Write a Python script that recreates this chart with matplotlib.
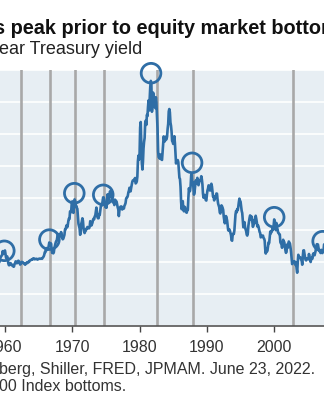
import numpy as np
import matplotlib
matplotlib.use('Agg')
import matplotlib.pyplot as plt

plt.rcParams['font.family'] = ['Liberation Sans', 'DejaVu Sans']

# monthly 10-year Treasury yield (%), Jan 1959 - Dec 2007
start_year = 1959
yields = [
    4.02, 3.96, 3.99, 4.12, 4.31, 4.34, 4.40, 4.43, 4.68, 4.53, 4.53, 4.69,
    4.72, 4.49, 4.25, 4.28, 4.35, 4.15, 3.90, 3.80, 3.80, 3.89, 3.93, 3.84,
    3.84, 3.78, 3.74, 3.78, 3.71, 3.88, 3.92, 4.04, 3.98, 3.92, 3.94, 4.06,
    4.08, 4.04, 3.93, 3.84, 3.87, 3.91, 4.01, 3.98, 3.98, 3.93, 3.92, 3.86,
    3.83, 3.92, 3.93, 3.97, 3.93, 3.99, 4.02, 4.00, 4.08, 4.11, 4.12, 4.13,
    4.17, 4.15, 4.22, 4.23, 4.20, 4.17, 4.19, 4.19, 4.20, 4.19, 4.15, 4.18,
    4.19, 4.21, 4.21, 4.20, 4.21, 4.21, 4.20, 4.25, 4.29, 4.35, 4.45, 4.62,
    4.61, 4.83, 4.87, 4.75, 4.78, 4.81, 5.02, 5.22, 5.18, 5.01, 5.16, 4.84,
    4.58, 4.63, 4.54, 4.59, 4.85, 5.02, 5.16, 5.28, 5.30, 5.48, 5.75, 5.70,
    5.53, 5.56, 5.74, 5.64, 5.87, 5.72, 5.50, 5.42, 5.46, 5.58, 5.70, 6.03,
    6.04, 6.19, 6.30, 6.17, 6.32, 6.57, 6.72, 6.69, 7.16, 7.10, 7.14, 7.65,
    7.79, 7.24, 7.07, 7.39, 7.91, 7.84, 7.46, 7.53, 7.39, 7.33, 6.84, 6.39,
    6.24, 6.11, 5.70, 5.83, 6.39, 6.52, 6.73, 6.58, 6.14, 5.93, 5.81, 5.93,
    5.95, 6.08, 6.07, 6.19, 6.13, 6.11, 6.11, 6.21, 6.55, 6.48, 6.28, 6.36,
    6.46, 6.64, 6.71, 6.67, 6.85, 6.90, 7.13, 7.40, 7.09, 6.79, 6.73, 6.74,
    6.99, 6.96, 7.21, 7.51, 7.58, 7.54, 7.81, 8.04, 8.04, 7.90, 7.68, 7.43,
    7.50, 7.39, 7.73, 8.23, 8.06, 7.86, 8.06, 8.40, 8.43, 8.14, 8.05, 8.00,
    7.74, 7.79, 7.73, 7.56, 7.90, 7.86, 7.83, 7.77, 7.59, 7.41, 7.29, 6.87,
    7.21, 7.39, 7.46, 7.37, 7.46, 7.28, 7.33, 7.40, 7.34, 7.52, 7.58, 7.69,
    7.96, 8.03, 8.04, 8.15, 8.35, 8.46, 8.64, 8.41, 8.42, 8.64, 8.81, 9.01,
    9.10, 9.10, 9.12, 9.18, 9.25, 8.91, 8.95, 9.03, 9.33, 10.30, 10.65, 10.39,
    10.80, 12.41, 12.75, 11.47, 10.18, 9.78, 10.25, 11.10, 11.51, 11.75, 12.68, 12.84,
    12.57, 13.19, 13.12, 13.68, 14.10, 13.47, 14.28, 14.94, 15.32, 15.15, 13.39, 13.72,
    14.59, 14.43, 13.86, 13.87, 13.62, 14.30, 13.95, 13.06, 12.34, 10.91, 10.55, 10.54,
    10.46, 10.72, 10.51, 10.40, 10.38, 10.85, 11.38, 11.85, 11.65, 11.54, 11.69, 11.83,
    11.67, 11.84, 12.32, 12.63, 13.41, 13.56, 13.36, 12.72, 12.52, 12.16, 11.57, 11.50,
    11.38, 11.51, 11.86, 11.43, 10.85, 10.16, 10.31, 10.33, 10.37, 10.24, 9.78, 9.26,
    9.19, 8.70, 7.78, 7.30, 7.71, 7.80, 7.30, 7.17, 7.45, 7.43, 7.25, 7.11,
    7.08, 7.25, 7.25, 8.02, 8.61, 8.40, 8.45, 8.76, 9.42, 9.52, 8.86, 8.99,
    8.67, 8.21, 8.37, 8.72, 9.09, 8.92, 9.06, 9.26, 8.98, 8.80, 8.96, 9.11,
    9.09, 9.17, 9.36, 9.18, 8.86, 8.28, 8.02, 8.11, 8.19, 8.01, 7.87, 7.84,
    8.21, 8.47, 8.59, 8.79, 8.76, 8.48, 8.47, 8.75, 8.89, 8.72, 8.39, 8.08,
    8.09, 7.85, 8.11, 8.04, 8.07, 8.28, 8.27, 7.90, 7.65, 7.53, 7.42, 7.09,
    7.03, 7.34, 7.54, 7.48, 7.39, 7.26, 6.84, 6.59, 6.42, 6.59, 6.87, 6.77,
    6.60, 6.26, 5.98, 5.97, 6.04, 5.96, 5.81, 5.68, 5.36, 5.33, 5.72, 5.77,
    5.75, 5.97, 6.48, 6.97, 7.18, 7.10, 7.30, 7.24, 7.46, 7.74, 7.96, 7.81,
    7.78, 7.47, 7.20, 7.06, 6.63, 6.17, 6.28, 6.49, 6.20, 6.04, 5.93, 5.71,
    5.65, 5.81, 6.27, 6.51, 6.74, 6.91, 6.87, 6.64, 6.83, 6.53, 6.20, 6.30,
    6.58, 6.42, 6.69, 6.89, 6.71, 6.49, 6.22, 6.30, 6.21, 6.03, 5.88, 5.81,
    5.54, 5.57, 5.65, 5.64, 5.65, 5.50, 5.46, 5.34, 4.81, 4.53, 4.83, 4.65,
    4.72, 5.00, 5.23, 5.18, 5.54, 5.90, 5.79, 5.94, 5.92, 6.11, 6.03, 6.28,
    6.66, 6.52, 6.26, 5.99, 6.44, 6.10, 6.05, 5.83, 5.80, 5.74, 5.72, 5.24,
    5.16, 5.10, 4.89, 5.14, 5.39, 5.28, 5.24, 4.97, 4.73, 4.57, 4.65, 5.09,
    5.04, 4.91, 5.28, 5.21, 5.16, 4.93, 4.65, 4.26, 3.87, 3.94, 4.05, 4.03,
    4.05, 3.90, 3.81, 3.96, 3.57, 3.33, 3.98, 4.45, 4.27, 4.29, 4.30, 4.27,
    4.15, 4.08, 3.83, 4.35, 4.72, 4.73, 4.50, 4.28, 4.13, 4.10, 4.19, 4.23,
    4.22, 4.17, 4.50, 4.34, 4.14, 4.00, 4.18, 4.26, 4.20, 4.46, 4.54, 4.47,
    4.42, 4.57, 4.72, 4.99, 5.11, 5.11, 5.09, 4.88, 4.72, 4.73, 4.60, 4.56,
    4.76, 4.72, 4.56, 4.69, 4.75, 5.10, 5.00, 4.67, 4.52, 4.53, 4.15, 4.10,
]
dates = start_year + np.arange(len(yields)) / 12

# yield peaks before each equity market bottom
peak_dates = [1959.9, 1966.6, 1970.3, 1974.6, 1981.7, 1987.8, 2000.0, 2007.2]
peak_yields = [4.7, 5.4, 8.3, 8.2, 15.8, 10.2, 6.8, 5.3]

# S&P 500 bottoms
bottom_dates = [1962.45, 1966.7, 1970.35, 1974.75, 1982.6, 1987.9, 2002.8, 2009.2, 2020.2]

year_ticks = [1960, 1970, 1980, 1990, 2000]

blue = '#2f6ea6'

fig = plt.figure(figsize=(3.24, 4.0), dpi=100)
ax = fig.add_axes([0, 1 - 326/400, 1, 256/400])
ax.set_facecolor('#e7eef3')

for b in bottom_dates:
    ax.axvline(b, color='#a8a8a8', linewidth=1.9, zorder=2)
ax.plot(dates, yields, color=blue, linewidth=1.9, zorder=3)
ax.scatter(peak_dates, peak_yields, s=200, facecolors='none', edgecolors=blue,
           linewidths=2.0, zorder=4, clip_on=False)

ax.set_yticks(np.arange(0, 17, 2))
ax.yaxis.grid(True, color='white', linewidth=1.2)
ax.set_axisbelow(True)
ax.tick_params(axis='y', length=0, labelleft=False)
ax.set_xticks(year_ticks)
ax.set_xticklabels([str(y) for y in year_ticks])
ax.set_xlim(1959.26, 2007.40)
ax.set_ylim(0, 16)
ax.tick_params(axis='x', length=4, width=1, color='#444444', labelsize=11.5,
               labelcolor='#333333', pad=6)
for s in ['top', 'left', 'right']:
    ax.spines[s].set_visible(False)
ax.spines['bottom'].set_color('#555555')
ax.spines['bottom'].set_linewidth(1.2)

fig.text(-0.02, 1 - 34/400, 's peak prior to equity market bottoms', fontsize=14.3,
         fontweight='bold', color='#111111', va='baseline')
fig.text(-0.004, 1 - 54/400, 'ear Treasury yield', fontsize=13, color='#222222',
         va='baseline')
fig.text(-0.004, 1 - 374/400, 'berg, Shiller, FRED, JPMAM. June 23, 2022.',
         fontsize=11.5, color='#333333', va='baseline')
fig.text(-0.004, 1 - 391/400, '00 Index bottoms.', fontsize=11.5, color='#333333',
         va='baseline')

fig.savefig('out.png', dpi=100)
